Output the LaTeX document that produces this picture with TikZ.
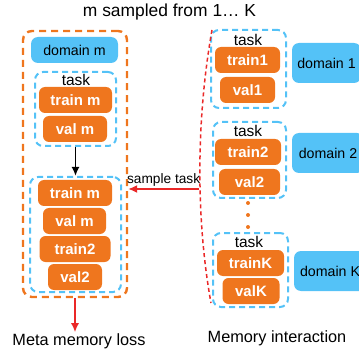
\documentclass[tikz,border=0pt]{standalone}
\usepackage{fontspec}
\setmainfont{Liberation Sans}
\usepackage{xcolor}
\usetikzlibrary{arrows.meta,positioning}

\definecolor{setorange}{RGB}{239,118,30}
\definecolor{domblue}{RGB}{84,194,247}
\definecolor{linkred}{RGB}{234,40,40}

\tikzset{
  setbox/.style={fill=setorange, rounded corners=6pt, text=white,
    font=\fontsize{15}{18}\selectfont\bfseries, minimum height=26pt, inner sep=0pt},
  dombox/.style={fill=domblue, rounded corners=7pt,
    font=\fontsize{14.2}{17}\selectfont, minimum height=40pt, inner sep=0pt},
  taskgrp/.style={draw=domblue, line width=2pt, dash pattern=on 6pt off 4pt,
    rounded corners=8pt, inner sep=0pt},
  memgrp/.style={draw=setorange, line width=2.4pt, dash pattern=on 7pt off 5pt,
    rounded corners=9pt, inner sep=0pt},
  tasklabel/.style={font=\fontsize{15.5}{18}\selectfont, inner sep=0pt},
  caption/.style={font=\fontsize{16.3}{19}\selectfont, inner sep=1pt},
  redarrow/.style={draw=linkred, line width=1.5pt, -{Latex[length=9pt,width=8pt]}}
}

\begin{document}
\begin{tikzpicture}[x=1pt,y=-1pt]
    \useasboundingbox (0,0) rectangle (359,350);
    % Title
    \node[font=\fontsize{17.4}{20}\selectfont, inner sep=0pt] (title) at (169.5,12) {m sampled from 1\dots\ K};

    % Left: sampled domain m and its merged task
    \node[memgrp, minimum width=104pt, minimum height=266pt] (memm) at (75,164) {};
    \node[dombox, minimum width=87pt, minimum height=26pt] (domm) at (74.5,50) {domain m};
    \node[taskgrp, minimum width=81pt, minimum height=74pt] (taskm) at (75.5,109) {};
    \node[tasklabel] at (76,80) {task};
    \node[setbox, minimum width=73pt] (trm) at (75.5,100) {train m};
    \node[setbox, minimum width=64pt] (vam) at (75,129) {val m};

    \node[taskgrp, minimum width=91pt, minimum height=115pt] (merged) at (75.5,234.5) {};
    \node[setbox, minimum width=74pt] (mtrm) at (75,193) {train m};
    \node[setbox, minimum width=63pt] (mvam) at (74.5,221) {val m};
    \node[setbox, minimum width=71pt] (mtr2) at (75,249) {train2};
    \node[setbox, minimum width=54pt] (mva2) at (75,277) {val2};
    \draw[line width=1.8pt, -{Latex[length=9pt,width=8pt]}] (taskm.south) -- (merged.north);

    \node[caption] (loss) at (79,341) {Meta memory loss};
    \draw[redarrow] (memm.south) -- (memm.south |- loss.north);

    % Right: memory of K domains
    \node[taskgrp, minimum width=75pt, minimum height=78pt] (task1) at (248.5,69) {};
    \node[tasklabel] at (248,40) {task};
    \node[setbox, minimum width=65pt] (tr1) at (247.5,60) {train1};
    \node[setbox, minimum width=55pt] (va1) at (247.5,90) {val1};
    \node[dombox, minimum width=69pt] (dom1) at (326.5,63) {domain 1};

    \node[taskgrp, minimum width=73pt, minimum height=76pt] (task2) at (249.5,160) {};
    \node[tasklabel] at (248,131) {task};
    \node[setbox, minimum width=66pt] (tr2) at (248,152) {train2};
    \node[setbox, minimum width=61pt] (va2) at (249.5,182) {val2};
    \node[dombox, minimum width=72pt] (dom2) at (328,153) {domain 2};

    \foreach \y in {203,215,227}
        \fill[setorange] (248,\y) circle (2pt);

    \node[taskgrp, minimum width=75pt, minimum height=74pt] (taskK) at (250.5,270) {};
    \node[tasklabel] at (249,242) {task};
    \node[setbox, minimum width=67pt] (trK) at (250.5,263) {trainK};
    \node[setbox, minimum width=57pt] (vaK) at (251,291) {valK};
    \node[dombox, minimum width=72pt] (domK) at (330,271) {domain K};

    \node[caption] (inter) at (277,338) {Memory interaction};

    % Brace over the memory and the sampling arrow
    \coordinate (ctop) at (212,30);
    \coordinate (cbot) at (211,303);
    \coordinate (pick) at (199,189);
    \draw[linkred, line width=1.5pt, dash pattern=on 4pt off 3pt]
        (ctop) .. controls (196,120) and (196,220) .. (cbot);
    \draw[redarrow] (pick) -- (memm.east |- pick)
        node[midway, above=2pt, font=\fontsize{13.7}{16}\selectfont, inner sep=0pt] {sample task};
\end{tikzpicture}
\end{document}
